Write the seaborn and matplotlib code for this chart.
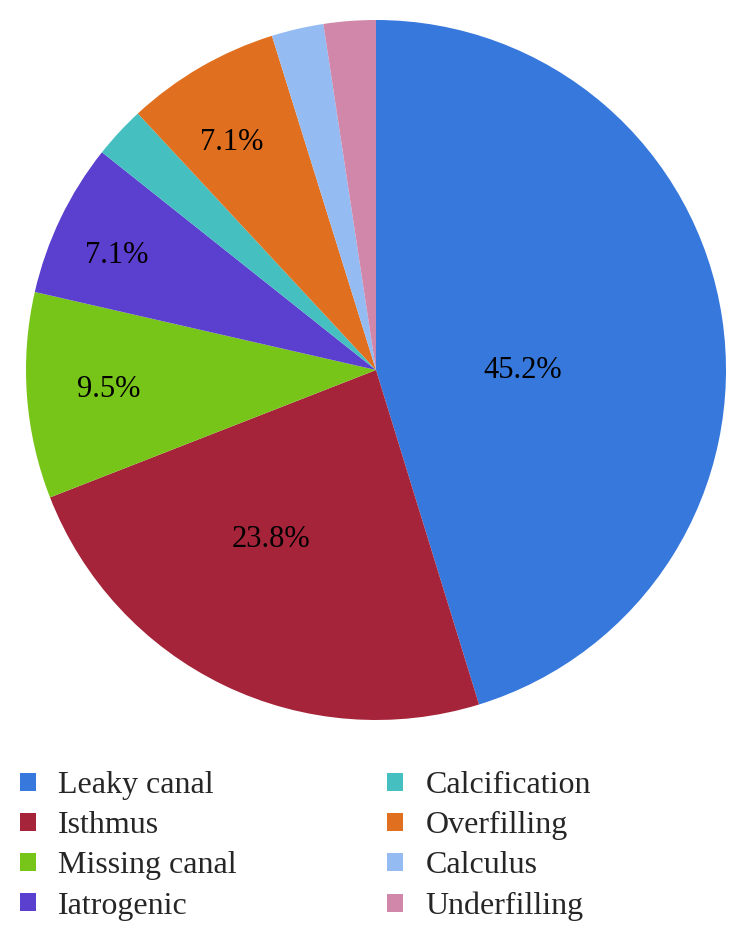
import numpy as np
import matplotlib
matplotlib.use("Agg")
import matplotlib.pyplot as plt
import seaborn as sns

# --- data ---
categories = ["Leaky canal", "Isthmus", "Missing canal", "Iatrogenic",
              "Calcification", "Overfilling", "Calculus", "Underfilling"]
percent = [45.2, 23.8, 9.5, 7.1, 2.4, 7.1, 2.4, 2.4]
shown_labels = ["45.2%", "23.8%", "9.5%", "7.1%", "", "7.1%", "", ""]
colors = ["#3778DC", "#A6243A", "#78C51A", "#5B3FCF",
          "#45BFBF", "#E07020", "#94BBF2", "#D087AA"]
# label placement: radius (fraction of pie radius) and angle shift from wedge middle
label_r = [0.42, 0.57, 0.765, 0.81, 0.6, 0.77, 0.6, 0.6]
label_shift = [-8.6, -6.1, 0.0, 1.8, 0.0, 2.2, 0.0, 0.0]

sns.set_theme(style="white")
plt.rcParams['font.family'] = ['Liberation Serif', 'DejaVu Serif']

fig = plt.figure(figsize=(7.51, 9.42), dpi=100)
ax = fig.add_axes([26 / 751, 1 - 720 / 942, 700 / 751, 700 / 942])

wedges, _ = ax.pie(percent, colors=colors, startangle=90, counterclock=False,
                   wedgeprops=dict(linewidth=0))
ax.set_xlim(-1, 1)
ax.set_ylim(-1, 1)
ax.set_aspect("equal")

for w, txt, r, sh in zip(wedges, shown_labels, label_r, label_shift):
    if not txt:
        continue
    ang = np.deg2rad((w.theta1 + w.theta2) / 2 + sh)
    ax.text(r * np.cos(ang), r * np.sin(ang), txt, ha="center", va="center",
            fontsize=22, color="black")

leg = fig.legend(wedges, categories, ncol=2, loc="upper left",
                 bbox_to_anchor=(20 / 751, 1 - 771 / 942), frameon=False,
                 fontsize=23, handlelength=0.5, handleheight=0.5,
                 handletextpad=0.7, labelspacing=0.35, columnspacing=4.7,
                 borderpad=0, borderaxespad=0)

fig.savefig("out.png", dpi=100)
